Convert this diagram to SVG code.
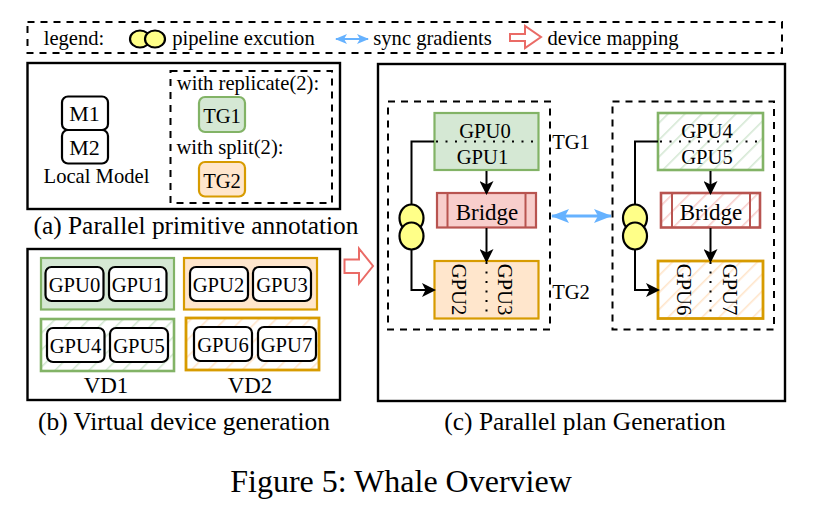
<svg xmlns="http://www.w3.org/2000/svg" width="822" height="510" viewBox="0 0 822 510">
<style>
text{font-family:"Liberation Serif","Times New Roman",serif;fill:#000;text-anchor:middle}
.t{font-size:20.6px}
.m{font-size:22px}
.b{font-size:23px}
.c{font-size:25.4px}
.g{font-size:20.6px}
.solid{fill:none;stroke:#000;stroke-width:2.4}
.dash{fill:none;stroke:#000;stroke-width:2;stroke-dasharray:7 6}
.chip{fill:#fff;stroke:#000;stroke-width:2.2}
.line{fill:none;stroke:#000;stroke-width:2}
.dot{fill:none;stroke:#000;stroke-width:2;stroke-dasharray:2 7.5}
.yel{fill:#ffff88;stroke:#000;stroke-width:2.2}
.gs{fill:#d5e8d4;stroke:#82b366;stroke-width:2.2}
.os{fill:#ffe6cc;stroke:#d79b00;stroke-width:2.2}
.rs{fill:#f8cecc;stroke:#b85450;stroke-width:2.2}
.gh{fill:url(#hg);stroke:#82b366;stroke-width:2.6}
.oh{fill:url(#ho);stroke:#d79b00;stroke-width:2.8}
.rh{fill:url(#hr);stroke:#b85450;stroke-width:2.6}
.map{fill:#fff;stroke:#ea6b66;stroke-width:2}
</style>
<defs>
<pattern id="hg" width="12" height="12" patternUnits="userSpaceOnUse" patternTransform="rotate(45)"><rect width="12" height="12" fill="#fff"/><rect width="1.600" height="12" fill="#d5e8d4"/></pattern>
<pattern id="ho" width="12" height="12" patternUnits="userSpaceOnUse" patternTransform="rotate(45)"><rect width="12" height="12" fill="#fff"/><rect width="1.600" height="12" fill="#ffe6cc"/></pattern>
<pattern id="hr" width="12" height="12" patternUnits="userSpaceOnUse" patternTransform="rotate(45)"><rect width="12" height="12" fill="#fff"/><rect width="1.600" height="12" fill="#f8cecc"/></pattern>
<marker id="ah" viewBox="0 0 14 14" refX="12" refY="7" markerWidth="14" markerHeight="14" markerUnits="userSpaceOnUse" orient="auto"><path d="M0 0L14 7L0 14L3.5 7Z" fill="#000"/></marker>
<marker id="bh" viewBox="0 0 18 14" refX="17" refY="7" markerWidth="18" markerHeight="14" markerUnits="userSpaceOnUse" orient="auto-start-reverse"><path d="M0 0L18 7L0 14L4 7Z" fill="#66b2ff"/></marker>
<marker id="bs" viewBox="0 0 12 10" refX="11" refY="5" markerWidth="12" markerHeight="10" markerUnits="userSpaceOnUse" orient="auto-start-reverse"><path d="M0 0L12 5L0 10L3 5Z" fill="#66b2ff"/></marker>
</defs>

<g id="legend">
<rect class="dash" x="27.500" y="22" width="754.500" height="31"/>
<text class="t" x="74" y="44.500">legend:</text>
<ellipse class="yel" cx="140" cy="39" rx="10" ry="8.500"/>
<ellipse class="yel" cx="155" cy="39" rx="10" ry="8.500"/>
<text class="t" x="243.500" y="44.500">pipeline excution</text>
<path d="M336 39H368" stroke="#66b2ff" stroke-width="2" marker-start="url(#bs)" marker-end="url(#bs)"/>
<text class="t" x="432.500" y="44.500">sync gradients</text>
<path class="map" d="M510 34H525V26L541 37L525 48V41H510Z"/>
<text class="t" x="613" y="44.500">device mapping</text>
</g>

<g id="panel-a">
<rect class="solid" x="27.500" y="63" width="312.500" height="146"/>
<rect class="dash" x="170.500" y="71" width="161.500" height="132"/>
<text class="c" x="196" y="234">(a) Parallel primitive annotation</text>
</g>
<g id="M1"><rect class="chip" x="62" y="96.500" width="46" height="33.500" rx="6"/><text class="m" x="84.500" y="121">M1</text></g>
<g id="M2"><rect class="chip" x="62" y="130" width="46" height="33.500" rx="6"/><text class="m" x="84.500" y="155">M2</text></g>
<text id="local-model" class="t" x="96.500" y="183">Local Model</text>
<text id="with-replicate" class="t" x="248" y="90">with replicate(2):</text>
<g id="TG1"><rect x="199" y="97" width="46" height="35" rx="6" fill="#d5e8d4" stroke="#82b366" stroke-width="2.200"/><text class="t" x="222" y="123">TG1</text></g>
<text id="with-split" class="t" x="230" y="154">with split(2):</text>
<g id="TG2"><rect x="199" y="162" width="46" height="34.500" rx="6" fill="#ffe6cc" stroke="#d79b00" stroke-width="2.200"/><text class="t" x="222" y="188">TG2</text></g>

<g id="panel-b">
<rect class="solid" x="27.500" y="249" width="312.500" height="151"/>
<rect class="gs" x="41" y="258" width="133" height="51.500"/>
<rect class="os" x="184" y="258" width="133" height="51.500"/>
<rect class="gh" x="41" y="319" width="133" height="52"/>
<rect class="oh" x="186" y="318" width="133" height="52"/>
<text class="b" x="106" y="393">VD1</text>
<text class="b" x="250" y="393">VD2</text>
<text class="c" x="184" y="430">(b) Virtual device generation</text>
</g>
<g id="GPU0-b"><rect class="chip" x="45.500" y="267" width="58" height="34" rx="6"/><text class="g" x="74.500" y="292">GPU0</text></g>
<g id="GPU1-b"><rect class="chip" x="109" y="267" width="57.500" height="34" rx="6"/><text class="g" x="137.500" y="292">GPU1</text></g>
<g id="GPU2-b"><rect class="chip" x="190" y="267" width="58" height="34" rx="6"/><text class="g" x="218.500" y="292">GPU2</text></g>
<g id="GPU3-b"><rect class="chip" x="253" y="267" width="58" height="34" rx="6"/><text class="g" x="282" y="292">GPU3</text></g>
<g id="GPU4-b"><rect class="chip" x="47" y="328" width="57.500" height="34" rx="6"/><text class="g" x="75.500" y="353">GPU4</text></g>
<g id="GPU5-b"><rect class="chip" x="110" y="328" width="58" height="34" rx="6"/><text class="g" x="139" y="353">GPU5</text></g>
<g id="GPU6-b"><rect class="chip" x="194" y="327" width="58" height="34" rx="6"/><text class="g" x="223" y="352">GPU6</text></g>
<g id="GPU7-b"><rect class="chip" x="258" y="327" width="58" height="34" rx="6"/><text class="g" x="286.500" y="352">GPU7</text></g>

<path id="map-arrow" class="map" d="M344.500 259.500H359V248.500L373 266L359 283.500V273H344.500Z"/>

<g id="panel-c">
<rect class="solid" x="378" y="64" width="407" height="337"/>
<rect class="dash" x="388" y="101.500" width="162" height="228"/>
<rect class="dash" x="612.500" y="101.500" width="161.500" height="228"/>
<text class="t" x="571" y="149">TG1</text>
<text class="t" x="571" y="299">TG2</text>
<text class="c" x="585" y="430">(c) Parallel plan Generation</text>
</g>

<g id="left-group-nodes">
<g id="TG1-box"><rect class="gs" x="434.500" y="113" width="104" height="57"/><text class="g" x="485" y="137.500">GPU0</text><text class="g" x="482.500" y="163.500">GPU1</text></g>
<g id="Bridge-left"><rect class="rs" x="437" y="193" width="99" height="34.500"/><path class="line" style="stroke:#b85450" d="M447.500 193V227.500M525.500 193V227.500"/><text class="b" x="487" y="220">Bridge</text></g>
<g id="TG2-box"><rect class="os" x="434.500" y="261" width="104" height="57.500"/><text class="g" transform="translate(452 289.500) rotate(90)">GPU2</text><text class="g" transform="translate(498 289.500) rotate(90)">GPU3</text></g>
</g>
<g id="right-group-nodes">
<g id="TG1-hatched"><rect class="gh" x="658" y="113" width="105" height="57"/><text class="g" x="707" y="137.500">GPU4</text><text class="g" x="707" y="163.500">GPU5</text></g>
<g id="Bridge-right"><rect class="rh" x="661" y="193" width="99" height="34.500"/><path class="line" style="stroke:#b85450" d="M672 193V227.500M750 193V227.500"/><text class="b" x="711" y="220">Bridge</text></g>
<g id="TG2-hatched"><rect class="oh" x="658" y="261" width="105" height="57.500"/><text class="g" transform="translate(677 289.500) rotate(90)">GPU6</text><text class="g" transform="translate(723 289.500) rotate(90)">GPU7</text></g>
</g>

<g id="connectors">
<path class="dot" d="M436 141.500H539"/>
<path class="dot" d="M486.500 262V318"/>
<path class="line" d="M434 141.500H411.500V290H434" marker-end="url(#ah)"/>
<path class="line" d="M486.500 171V193" marker-end="url(#ah)"/>
<path class="line" d="M486.500 228V261" marker-end="url(#ah)"/>
<path class="dot" d="M660 141.500H763"/>
<path class="dot" d="M710.500 262V318"/>
<path class="line" d="M658 141.500H635V290H658" marker-end="url(#ah)"/>
<path class="line" d="M710.500 171V193" marker-end="url(#ah)"/>
<path class="line" d="M710.500 228V261" marker-end="url(#ah)"/>
<path d="M552 216H611" stroke="#66b2ff" stroke-width="3" marker-start="url(#bh)" marker-end="url(#bh)"/>
</g>

<g id="pipeline-left"><ellipse class="yel" cx="411.500" cy="218" rx="12" ry="13.500"/><ellipse class="yel" cx="411.500" cy="236" rx="12" ry="13.500"/></g>
<g id="pipeline-right"><ellipse class="yel" cx="635" cy="218" rx="12" ry="13.500"/><ellipse class="yel" cx="635" cy="236" rx="12" ry="13.500"/></g>

<text id="figure-caption" x="401" y="492" style="font-size:32px">Figure 5: Whale Overview</text>
</svg>
